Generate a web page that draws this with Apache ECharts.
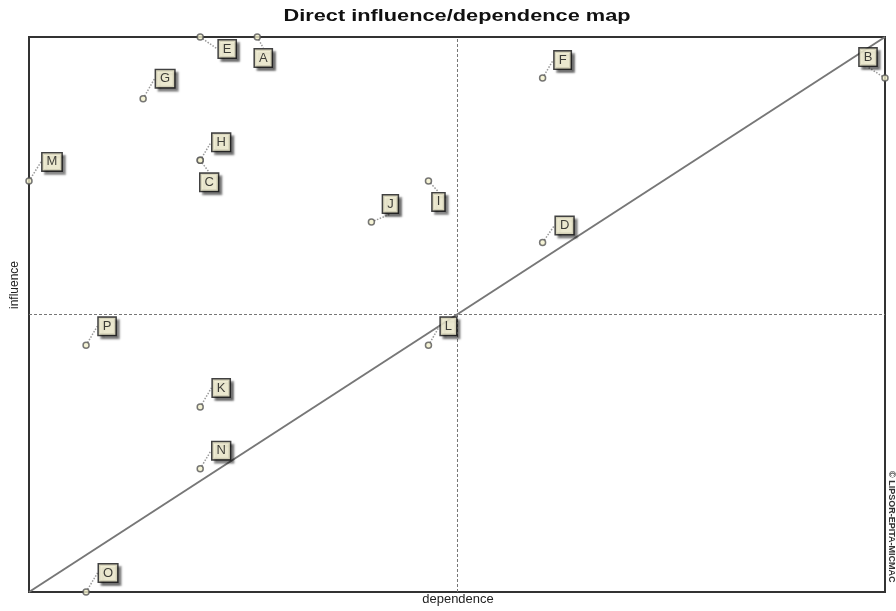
<!DOCTYPE html>
<html>
<head>
<meta charset="utf-8">
<script src="https://cdn.jsdelivr.net/npm/echarts@6/dist/echarts.min.js"></script>
<style>
  html, body { margin: 0; padding: 0; background: #fff; }
  #map { width: 896px; height: 611px; }
</style>
</head>
<body>
<div id="map"></div>
<script>
// variables (letters) with their dependence / influence values
var varNames = ['A', 'B', 'C', 'D', 'E', 'F', 'G', 'H', 'I', 'J', 'K', 'L', 'M', 'N', 'O', 'P'];
var dependence = [4, 15, 3, 9, 3, 9, 2, 3, 7, 6, 3, 7, 0, 3, 1, 1];
var influence = [27, 25, 21, 17, 27, 25, 24, 21, 20, 18, 9, 12, 20, 6, 0, 12];
var depMax = 15;
var infMax = 27;

// label displacement (px) from each point, same order as varNames
var labelShift = [
    [6, 21], [-17, -21], [9, 22], [22, -17], [27, 12], [20, -18], [22, -20], [21, -18],
    [10, 21], [19, -18], [21, -19], [20, -19], [23, -19], [21, -18], [22, -19], [21, -19]
];

var points = [];
for (var i = 0; i < varNames.length; i++) {
    points.push({ name: varNames[i], value: [dependence[i], influence[i]] });
}

var chart = echarts.init(document.getElementById('map'));
var option = {
    backgroundColor: '#ffffff',
    animation: false,
    grid: {
        left: 29,
        right: 11,
        top: 37,
        bottom: 19,
        outerBoundsMode: 'none',
        show: true,
        borderColor: '#333',
        borderWidth: 2,
        backgroundColor: '#fff'
    },
    xAxis: {
        type: 'value',
        min: 0,
        max: depMax,
        axisLine: { show: false },
        axisTick: { show: false },
        axisLabel: { show: false },
        splitLine: { show: false }
    },
    yAxis: {
        type: 'value',
        min: 0,
        max: infMax,
        axisLine: { show: false },
        axisTick: { show: false },
        axisLabel: { show: false },
        splitLine: { show: false }
    },
    graphic: [{
        // chart title, stretched a little like the original
        type: 'text',
        x: 457,
        y: 16,
        scaleX: 1.28,
        style: {
            text: 'Direct influence/dependence map',
            font: 'bold 17px Liberation Sans, Arial',
            fill: '#111',
            align: 'center',
            verticalAlign: 'middle'
        }
    }, {
        type: 'text',
        x: 458,
        y: 600,
        scaleX: 1.08,
        style: {
            text: 'dependence',
            font: '12px Liberation Sans, Arial',
            fill: '#222',
            align: 'center',
            verticalAlign: 'middle'
        }
    }, {
        type: 'text',
        x: 15,
        y: 285,
        rotation: Math.PI / 2,
        style: {
            text: 'influence',
            font: '12px Liberation Sans, Arial',
            fill: '#222',
            align: 'center',
            verticalAlign: 'middle'
        }
    }, {
        type: 'text',
        x: 896,
        y: 471,
        rotation: -Math.PI / 2,
        style: {
            text: '© LIPSOR-EPITA-MICMAC',
            font: 'bold 9px Liberation Sans, Arial',
            fill: '#333'
        }
    }],
    series: [
        {
            type: 'line',
            data: [[0, 0], [depMax, infMax]],
            symbol: 'none',
            silent: true,
            lineStyle: { color: '#777', width: 2 },
            markLine: {
                silent: true,
                symbol: 'none',
                label: { show: false },
                lineStyle: { color: '#777', type: [3, 2], width: 1 },
                data: [{ xAxis: depMax / 2 }, { yAxis: infMax / 2 }]
            },
            z: 1
        },
        {
            type: 'scatter',
            data: points,
            symbol: 'circle',
            symbolSize: 6,
            itemStyle: {
                color: '#f3f0cc',
                borderColor: '#555',
                borderWidth: 1.5
            },
            label: {
                show: true,
                position: 'inside',
                formatter: '{b}',
                fontFamily: 'Liberation Sans, Arial',
                fontSize: 13,
                color: '#111',
                backgroundColor: '#fffbdc',
                borderColor: '#111',
                borderWidth: 1.5,
                padding: [2, 4, 2, 4],
                shadowColor: 'rgba(0,0,0,0.5)',
                shadowBlur: 2,
                shadowOffsetX: 3,
                shadowOffsetY: 3
            },
            labelLine: {
                show: true,
                lineStyle: { color: '#999', type: 'dotted', width: 1.5 }
            },
            labelLayout: function (params) {
                var s = labelShift[params.dataIndex];
                return { dx: s[0], dy: s[1] };
            },
            z: 5
        }
    ]
};
chart.setOption(option);
</script>
</body>
</html>
